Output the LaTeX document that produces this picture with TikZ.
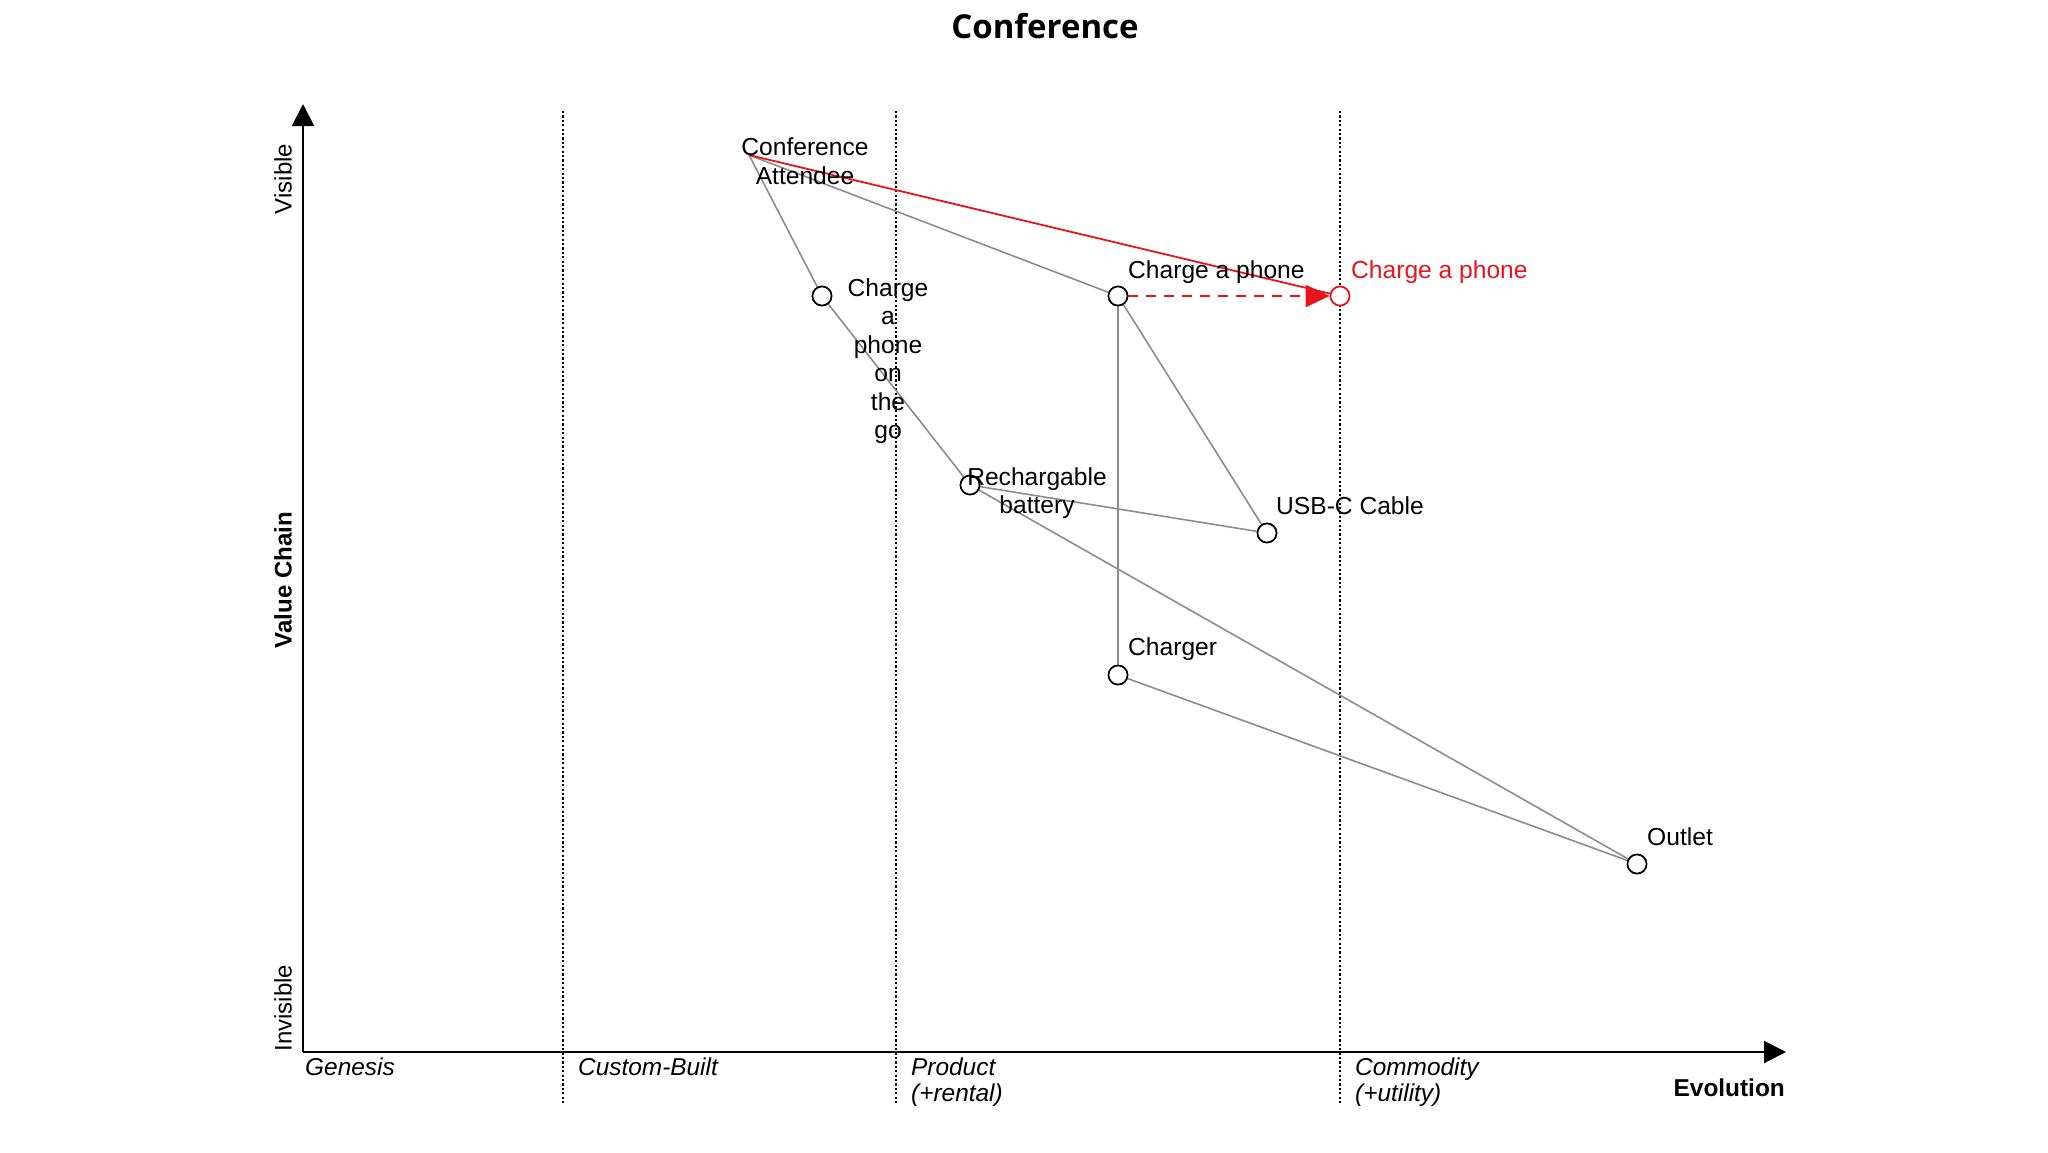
\documentclass[tikz,border=0pt]{standalone}
\usepackage{fontspec}
\setmainfont{Liberation Sans}
\newfontfamily\titlefont{Open Sans}
\usetikzlibrary{arrows.meta}
\definecolor{linkgray}{HTML}{8C8C8C}
\definecolor{evored}{HTML}{E8141B}
\tikzset{
  base/.style={x=1pt,y=-1pt},
  comp/.style={circle, draw=black, fill=white, line width=1.6pt, minimum size=19pt, inner sep=0pt},
  evocomp/.style={comp, draw=evored},
  link/.style={draw=linkgray, line width=1.6pt},
  evolink/.style={draw=evored, line width=1.8pt},
  evoarrow/.style={draw=evored, line width=1.8pt, dash pattern=on 10pt off 8pt, -{Triangle[length=24pt,width=22pt]}},
  lbl/.style={font=\fontsize{24.6}{28.5}\selectfont, text=black, inner sep=0pt},
  stage/.style={font=\fontsize{24.4}{26}\selectfont\itshape, inner sep=0pt, align=left},
  sep/.style={draw=black, line width=1.6pt, dash pattern=on 2.2pt off 2.2pt},
  axis/.style={draw=black, line width=2pt, -{Triangle[length=22pt,width=22pt]}},
  ylbl/.style={font=\fontsize{24}{28}\selectfont, rotate=90, inner sep=0pt}
}
\begin{document}
\begin{tikzpicture}[base]
\useasboundingbox (0,0) rectangle (2048,1152);
% title
\node[font=\titlefont\fontsize{33}{38}\selectfont\bfseries, inner sep=0pt] (title) at (1045,26) {Conference};
% separators
\coordinate (s1t) at (563,111); \coordinate (s1b) at (563,1104);
\coordinate (s2t) at (896,111); \coordinate (s2b) at (896,1104);
\coordinate (s3t) at (1340,111); \coordinate (s3b) at (1340,1104);
\draw[sep] (s1t) -- (s1b);
\draw[sep] (s2t) -- (s2b);
\draw[sep] (s3t) -- (s3b);
% axes
\coordinate (origin) at (303,1052);
\coordinate (ytop) at (303,104);
\coordinate (xend) at (1786,1052);
\draw[axis] (origin) -- (ytop);
\draw[axis] (origin) -- (xend);
% axis labels
\node[ylbl, anchor=center] (visible) at (283,179) {Visible};
\node[ylbl, anchor=center] (invisible) at (283,1008) {Invisible};
\node[ylbl, font=\fontsize{24}{28}\selectfont\bfseries] (vchain) at (283,580) {Value Chain};
\node[stage, anchor=north west] (genesis) at (305,1058) {Genesis};
\node[stage, anchor=north west] (custom) at (578,1058) {Custom-Built};
\node[stage, anchor=north west] (product) at (911,1058) {Product\\(+rental)};
\node[stage, anchor=north west] (commodity) at (1355,1058) {Commodity\\(+utility)};
\node[font=\fontsize{24.4}{28}\selectfont\bfseries, inner sep=0pt, anchor=east] (evolution) at (1785,1088) {Evolution};
% component positions
\coordinate (att) at (749,155);
\node[comp] (go) at (822,296) {};
\node[comp] (cap) at (1118,296) {};
\node[evocomp] (capnew) at (1340,296) {};
\node[comp] (bat) at (970,485) {};
\node[comp] (usb) at (1267,533) {};
\node[comp] (chg) at (1118,675) {};
\node[comp] (out) at (1637,864) {};
% links
\draw[link] (att) -- (go);
\draw[link] (att) -- (cap);
\draw[link] (go) -- (bat);
\draw[link] (cap) -- (chg);
\draw[link] (cap) -- (usb);
\draw[link] (bat) -- (usb);
\draw[link] (bat) -- (out);
\draw[link] (chg) -- (out);
\draw[evolink] (att) -- (capnew);
\draw[evoarrow] (cap) -- (capnew);
% redraw circles on top
\node[comp] at (go) {};
\node[comp] at (cap) {};
\node[evocomp] at (capnew) {};
\node[comp] at (bat) {};
\node[comp] at (usb) {};
\node[comp] at (chg) {};
\node[comp] at (out) {};
% labels
\node[lbl, align=center] (attl) at (805,161) {Conference\\Attendee};
\node[lbl, align=center, anchor=north] (gol) at (888,278) {Charge\\a\\phone\\on\\the\\go};
\node[lbl, anchor=west] (capl) at (1128,272) {Charge a phone};
\node[lbl, anchor=west, text=evored] (capnewl) at (1351,272) {Charge a phone};
\node[lbl, align=center] (batl) at (1037,493) {Rechargable\\battery};
\node[lbl, anchor=west] (usbl) at (1276,506) {USB-C Cable};
\node[lbl, anchor=west] (chgl) at (1128,649) {Charger};
\node[lbl, anchor=west] (outl) at (1647,837) {Outlet};
\end{tikzpicture}
\end{document}
